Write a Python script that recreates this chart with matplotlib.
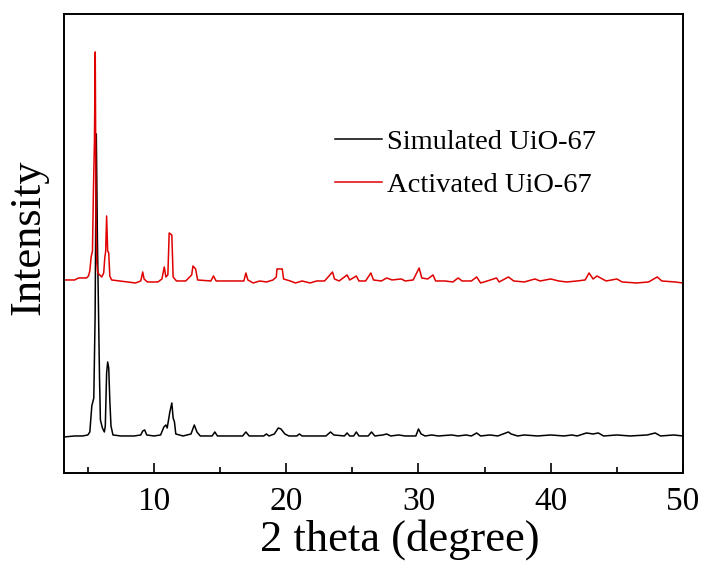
import matplotlib
matplotlib.use('Agg')
import matplotlib.pyplot as plt
from matplotlib.ticker import MultipleLocator
import numpy as np

plt.rcParams['font.family'] = ['Liberation Serif', 'DejaVu Serif']

# XRD traces, intensity (a.u.) above each pattern's own baseline
sim_2theta = [3.2, 4.0, 4.6, 5.0, 5.15, 5.3, 5.45, 5.55, 5.64, 5.72, 5.80, 5.88, 5.95,
              6.1, 6.25, 6.32, 6.42, 6.5, 6.58, 6.66, 6.75, 6.9, 7.5, 8.5, 9.0, 9.15,
              9.3, 9.45, 10.0, 10.5, 10.75, 10.9, 11.0, 11.2, 11.35, 11.45, 11.55, 11.65,
              12.2, 12.8, 13.05, 13.25, 13.5, 14.4, 14.6, 14.8, 16.7, 16.95, 17.2, 18.3,
              18.5, 18.7, 19.1, 19.4, 19.6, 19.9, 20.2, 20.8, 21.0, 21.2, 23.0, 23.35,
              23.6, 24.4, 24.6, 24.8, 25.1, 25.3, 25.5, 26.2, 26.45, 26.7, 27.3, 27.6,
              27.9, 28.5, 29.0, 29.8, 30.0, 30.2, 30.5, 31.0, 31.5, 32.5, 33.0, 33.6,
              34.0, 34.4, 34.7, 35.4, 36.0, 36.6, 36.8, 37.0, 37.5, 38.0, 39.0, 40.0,
              41.0, 41.6, 42.0, 42.7, 43.2, 43.6, 44.0, 45.0, 46.0, 47.3, 47.9, 48.3,
              49.3, 50.0]
sim_int = [-1, 0, 0, 1, 4, 30, 38, 120, 302, 200, 131, 60, 16,
           8, 4, 10, 63, 74, 68, 36, 10, 1, 0, 0, 1, 5,
           6, 1, 0, 1, 9, 11, 8, 24, 33, 18, 14, 2,
           0, 2, 11, 4, 0, 0, 4, 0, 0, 4, 0, 0,
           2, 0, 2, 8, 7, 2, 0, 0, 2, 0, 0, 4,
           1, 0, 3, 0, 0, 4, 0, 0, 4, 0, 1, 2,
           0, 1, 0, 0, 7, 2, 0, 1, 0, 1, 0, 1,
           0, 3, 0, 1, 0, 3, 4, 2, 0, 1, 0, 1,
           0, 1, 0, 3, 2, 3, 0, 1, 0, 1, 3, 0,
           1, 0]

act_2theta = [3.2, 4.0, 4.3, 4.9, 5.05, 5.15, 5.25, 5.35, 5.42, 5.5, 5.56, 5.62, 5.68,
              5.75, 5.9, 6.05, 6.2, 6.28, 6.35, 6.42, 6.5, 6.58, 6.66, 6.8, 7.4, 8.0,
              8.6, 9.0, 9.15, 9.25, 9.5, 10.3, 10.6, 10.78, 10.9, 11.05, 11.15, 11.35,
              11.45, 11.7, 12.4, 12.85, 12.95, 13.15, 13.3, 14.3, 14.5, 14.7, 16.8,
              16.95, 17.1, 17.5, 18.0, 18.5, 19.0, 19.25, 19.3, 19.7, 19.8, 20.3, 20.7,
              21.2, 21.8, 22.3, 22.9, 23.5, 23.65, 24.0, 24.6, 24.8, 25.3, 25.5, 26.0,
              26.4, 26.6, 27.2, 27.6, 28.0, 28.7, 29.0, 29.6, 30.05, 30.25, 30.7, 31.1,
              31.3, 32.0, 32.6, 33.0, 33.3, 34.0, 34.4, 34.7, 35.2, 35.9, 36.1, 36.8,
              37.2, 38.0, 38.8, 39.2, 40.0, 40.6, 41.2, 42.0, 42.6, 42.9, 43.2, 43.5,
              43.9, 44.2, 45.0, 45.4, 46.5, 47.4, 48.05, 48.4, 49.4, 50.0]
act_int = [1, 1, 3, 3, 5, 10, 24, 30, 89, 140, 229, 60, 18,
           8, 6, 4, 8, 23, 30, 65, 30, 28, 5, 1, 0, -1,
           -2, 0, 9, 2, -1, -1, 2, 14, 4, 6, 48, 46,
           4, 0, 0, 6, 15, 12, 1, 0, 5, 0, 0,
           8, 1, -2, 0, -1, 1, 4, 12, 12, 2, 0, -2,
           0, -2, 0, 0, 9, 2, 0, 6, 1, 5, 0, 0,
           8, 1, 0, 3, 1, 2, 0, 1, 13, 3, 2, 6,
           0, 0, -1, 3, 0, 0, 4, -2, 0, 3, -1, 4,
           0, -1, 2, 0, 2, 0, -1, 0, 1, 8, 2, 5,
           2, 0, 2, -1, -2, -1, 4, 0, -1, -2]

sim_offset = 37
act_offset = 192

fig = plt.figure(figsize=(7.06, 5.68), dpi=100)
ax = fig.add_axes([0.0907, 0.1673, 0.8767, 0.8081])

ax.plot(sim_2theta, np.array(sim_int) + sim_offset, color='black', lw=1.1,
        label='Simulated UiO-67')
ax.plot(act_2theta, np.array(act_int) + act_offset, color='#e00000', lw=1.1,
        label='Activated UiO-67')

ax.set_xlim(3.2, 50)
ax.set_ylim(0, 459)
ax.xaxis.set_major_locator(MultipleLocator(10))
ax.xaxis.set_minor_locator(MultipleLocator(5))
ax.tick_params(axis='x', which='major', direction='in', length=7, width=1.2,
               labelsize=24, pad=10)
ax.tick_params(axis='x', which='minor', direction='in', length=4, width=1.2)
ax.set_yticks([])
for sp in ax.spines.values():
    sp.set_linewidth(1.4)

ax.set_xlabel('2 theta (degree)', fontsize=32, labelpad=2)
ax.xaxis.set_label_coords(0.543, -0.1)
ax.xaxis.label.set_va('top')
ax.set_ylabel('Intensity', fontsize=32)
ax.yaxis.set_label_coords(-0.026, 0.513)

leg = ax.legend(loc='upper left', bbox_to_anchor=(0.42, 0.775), frameon=False,
                fontsize=20.5, handlelength=1.65, handletextpad=0.15, labelspacing=0.6,
                borderaxespad=0)

fig.savefig('out.png', dpi=100)
